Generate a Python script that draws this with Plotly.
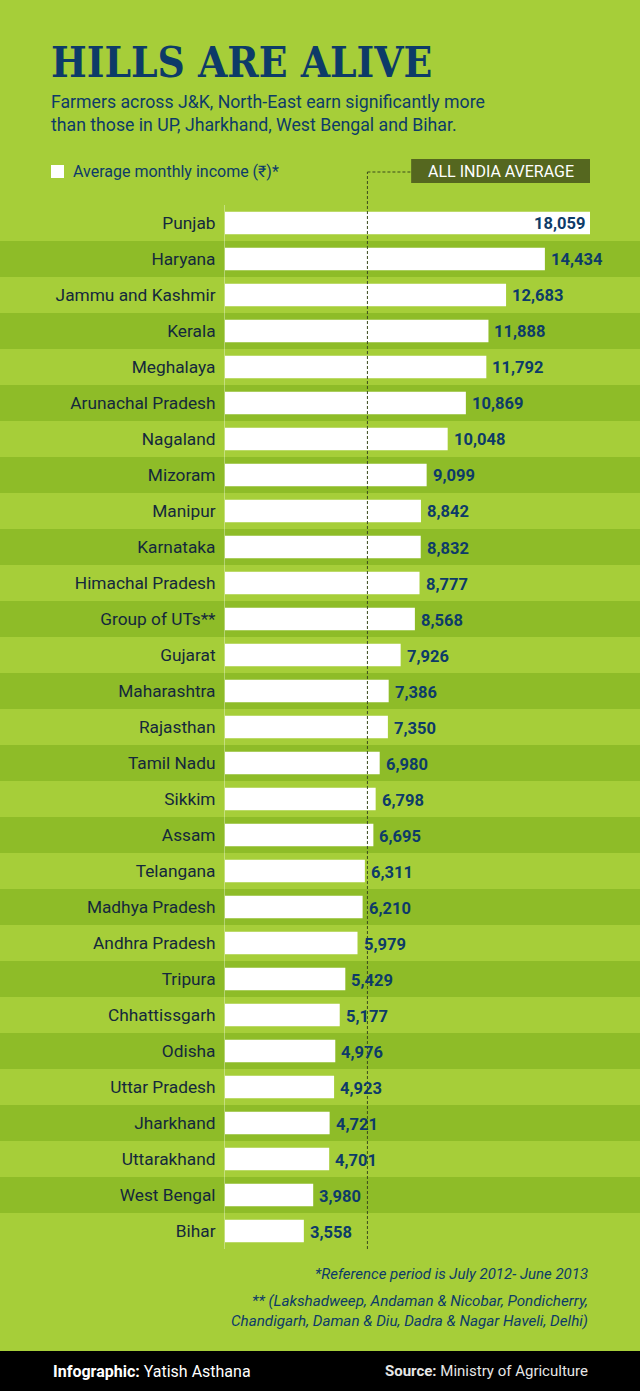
import plotly.graph_objects as go

# ---------------- data ----------------
states = ["Punjab", "Haryana", "Jammu and Kashmir", "Kerala", "Meghalaya",
          "Arunachal Pradesh", "Nagaland", "Mizoram", "Manipur", "Karnataka",
          "Himachal Pradesh", "Group of UTs**", "Gujarat", "Maharashtra",
          "Rajasthan", "Tamil Nadu", "Sikkim", "Assam", "Telangana",
          "Madhya Pradesh", "Andhra Pradesh", "Tripura", "Chhattissgarh",
          "Odisha", "Uttar Pradesh", "Jharkhand", "Uttarakhand",
          "West Bengal", "Bihar"]
income = [18059, 14434, 12683, 11888, 11792, 10869, 10048, 9099, 8842, 8832,
          8777, 8568, 7926, 7386, 7350, 6980, 6798, 6695, 6311, 6210, 5979,
          5429, 5177, 4976, 4923, 4721, 4701, 3980, 3558]
all_india_average = 6426

title = "HILLS ARE ALIVE"
subtitle = ("Farmers across J&K, North-East earn significantly more<br>"
            "than those in UP, Jharkhand, West Bengal and Bihar.")
legend_label = "Average monthly income (₹)*"
avg_label = "ALL INDIA AVERAGE"
note1 = "*Reference period is July 2012- June 2013"
note2 = ("** (Lakshadweep, Andaman & Nicobar, Pondicherry,<br>"
         "Chandigarh, Daman & Diu, Dadra & Nagar Haveli, Delhi)")
credit = "<b>Infographic:</b> Yatish Asthana"
source = "<b>Source:</b> Ministry of Agriculture"

# ---------------- styling ----------------
W, H = 640, 1391
BG = "#a6ce39"
STRIPE = "#8ebc28"
NAVY = "#0d3b68"
LABEL = "#14283c"
BOX = "#55671f"
AXIS_MAX = 16470          # axis range end (Punjab bar runs off the scale)
BOX_START = 8400          # left edge of the "all india average" tag on the scale


def X(px):
    return px / W


def Y(py):
    return 1 - py / H


fig = go.Figure()
fig.add_trace(go.Bar(
    y=states, x=income, orientation="h",
    marker=dict(color="white", line=dict(width=0)),
    width=0.63, name=legend_label, showlegend=False,
    hoverinfo="x+y",
))

shapes = []
# alternating row stripes
for i in range(len(states)):
    if i % 2 == 1:
        shapes.append(dict(type="rect", xref="paper", yref="y", x0=0, x1=1,
                           y0=i - 0.5, y1=i + 0.5, fillcolor=STRIPE,
                           line=dict(width=0), layer="below"))
# all india average line
shapes.append(dict(type="line", xref="x", yref="paper",
                   x0=all_india_average, x1=all_india_average,
                   y0=Y(1249), y1=Y(172),
                   line=dict(color="#3b4a1c", width=1, dash="3px,2px")))
shapes.append(dict(type="line", xref="x", yref="paper",
                   x0=all_india_average, x1=BOX_START,
                   y0=Y(172), y1=Y(172),
                   line=dict(color="#3b4a1c", width=1, dash="3px,2px")))
shapes.append(dict(type="rect", xref="x", yref="paper",
                   x0=BOX_START, x1=AXIS_MAX, y0=Y(183), y1=Y(159),
                   fillcolor=BOX, line=dict(width=0)))
# legend swatch
shapes.append(dict(type="rect", xref="paper", yref="paper",
                   x0=X(51), x1=X(64), y0=Y(178), y1=Y(165),
                   fillcolor="white", line=dict(width=0)))
# footer band
shapes.append(dict(type="rect", xref="paper", yref="paper", x0=0, x1=1,
                   y0=0, y1=Y(1351), fillcolor="#000000", line=dict(width=0)))

annotations = []
# value labels
for s, v in zip(states, income):
    if v > AXIS_MAX:
        annotations.append(dict(x=AXIS_MAX, y=s, xref="x", yref="y",
                                text=f"<b>{v:,}</b>", showarrow=False,
                                xanchor="right", xshift=-3, yshift=-1,
                                font=dict(family="Roboto", size=16.5, color=NAVY)))
    else:
        annotations.append(dict(x=v, y=s, xref="x", yref="y",
                                text=f"<b>{v:,}</b>", showarrow=False,
                                xanchor="left", xshift=4, yshift=-1,
                                font=dict(family="Roboto", size=16.5, color=NAVY)))

annotations += [
    dict(x=X(49), y=Y(63), xref="paper", yref="paper", text=f"<b>{title}</b>",
         showarrow=False, xanchor="left", yanchor="middle",
         font=dict(family="DejaVu Serif Condensed, DejaVu Serif", size=42, color=NAVY)),
    dict(x=X(49), y=Y(113), xref="paper", yref="paper", text=subtitle,
         showarrow=False, xanchor="left", yanchor="middle", align="left",
         font=dict(family="Roboto", size=17.7, color=NAVY)),
    dict(x=X(71), y=Y(171), xref="paper", yref="paper", text=legend_label,
         showarrow=False, xanchor="left", yanchor="middle",
         font=dict(family="Roboto", size=16, color=NAVY)),
    dict(x=(BOX_START + AXIS_MAX) / 2, y=Y(171), xref="x", yref="paper",
         text=avg_label, showarrow=False, xanchor="center", yanchor="middle",
         font=dict(family="Roboto", size=16, color="white")),
    dict(x=X(590), y=Y(1274), xref="paper", yref="paper", text=f"<i>{note1}</i>",
         showarrow=False, xanchor="right", yanchor="middle",
         font=dict(family="Roboto", size=15, color=NAVY)),
    dict(x=X(590), y=Y(1311), xref="paper", yref="paper", text=f"<i>{note2}</i>",
         showarrow=False, xanchor="right", yanchor="middle", align="right",
         font=dict(family="Roboto", size=15.2, color=NAVY)),
    dict(x=X(51), y=Y(1371), xref="paper", yref="paper", text=credit,
         showarrow=False, xanchor="left", yanchor="middle",
         font=dict(family="Roboto", size=16, color="white")),
    dict(x=X(590), y=Y(1371), xref="paper", yref="paper", text=source,
         showarrow=False, xanchor="right", yanchor="middle",
         font=dict(family="Roboto", size=15, color="#e6e6e6")),
]

fig.update_layout(
    width=W, height=H,
    margin=dict(l=0, r=0, t=0, b=0),
    paper_bgcolor=BG, plot_bgcolor="rgba(0,0,0,0)",
    shapes=shapes, annotations=annotations,
    showlegend=False,
    xaxis=dict(domain=[X(225), X(590)], range=[0, AXIS_MAX], visible=False,
               fixedrange=True),
    yaxis=dict(domain=[Y(1249), Y(205)], type="category",
               range=[len(states) - 0.5, -0.5],
               showgrid=False, zeroline=False, ticks="",
               showline=True, linecolor="rgba(255,255,255,0.35)", linewidth=1,
               ticklabelstandoff=5,
               tickfont=dict(family="Roboto", size=17.3, color=LABEL),
               fixedrange=True),
    font=dict(family="Roboto"),
)

fig.write_html("out.html",
               config={"displayModeBar": False},
               post_script="document.body.style.margin='0';"
                           "document.body.style.background='" + BG + "';")
